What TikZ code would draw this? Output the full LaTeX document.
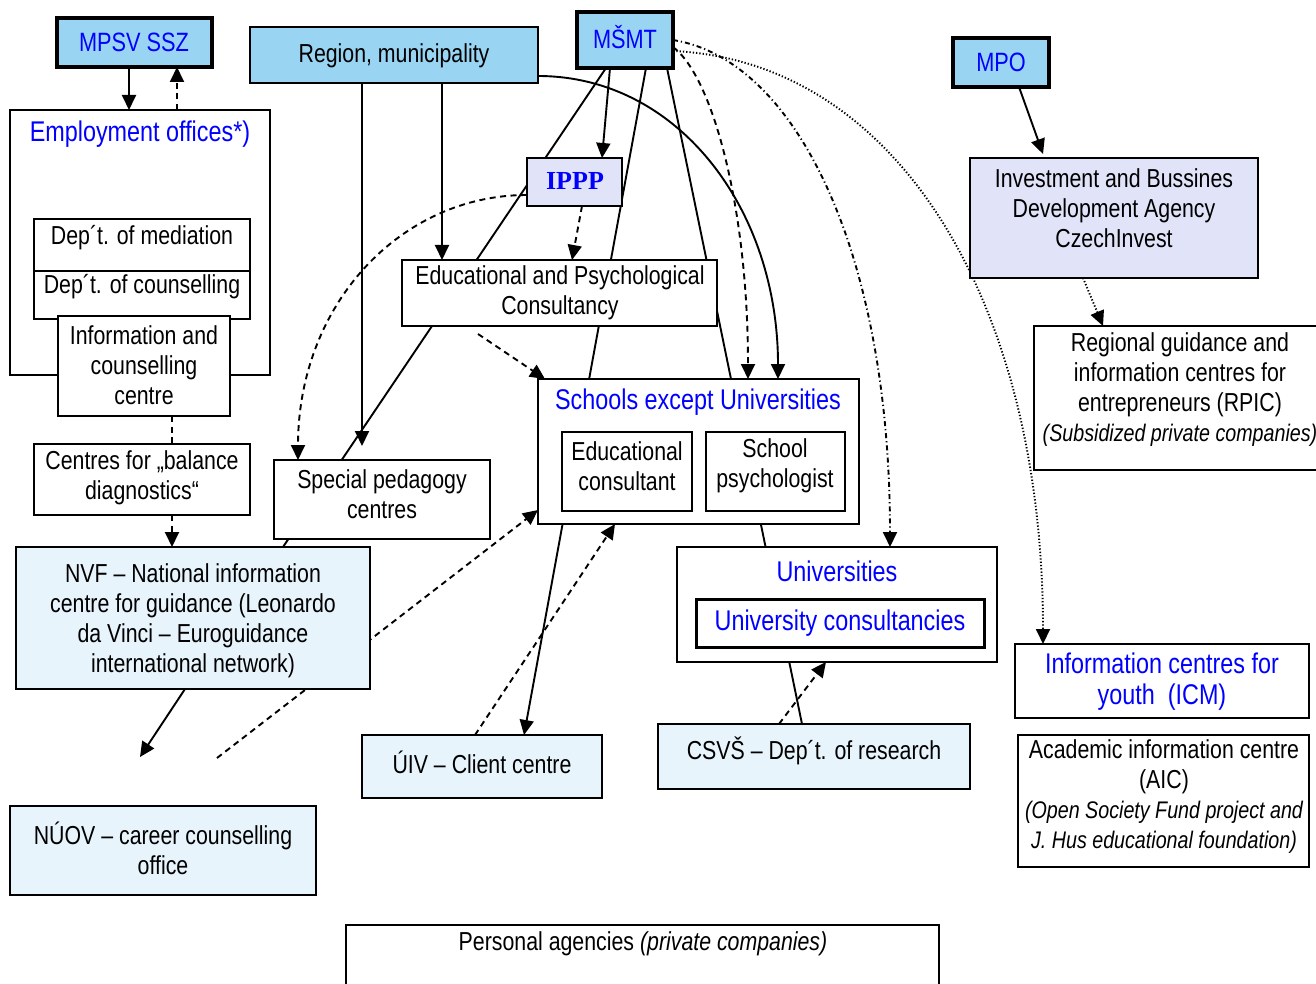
\documentclass[tikz,border=0pt]{standalone}
\usepackage{fontspec}
\setmainfont{Liberation Sans}[FakeStretch=0.82]
\newfontfamily\ipppfont{Liberation Serif}
\usetikzlibrary{arrows.meta,calc}
\definecolor{skyb}{RGB}{153,213,242}
\definecolor{paleb}{RGB}{232,244,252}
\definecolor{lav}{RGB}{225,228,248}
\definecolor{tblue}{RGB}{0,0,255}
\newcommand\myital{\fontsize{24}{28}\selectfont\itshape}
\pgfdeclarelayer{bgfill}
\pgfdeclarelayer{bg}
\pgfsetlayers{bgfill,bg,main}
\begin{document}
\begin{tikzpicture}[x=1pt,y=-1pt,
  box/.style={draw=black, line width=2pt, fill=white, inner sep=0pt, outer sep=0pt, anchor=north west},
  heavy/.style={box, line width=4.5pt},
  txt/.style={font=\fontsize{26}{30}\selectfont, align=center, inner sep=0pt},
  ttl/.style={font=\fontsize{28.5}{31}\selectfont, text=tblue, align=center, inner sep=0pt},
  con/.style={line width=1.9pt},
  arr/.style={-{Triangle[length=15pt,width=14pt]}},
  dsh/.style={dash pattern=on 6pt off 4.5pt},
  ddot/.style={dash pattern=on 5pt off 3pt on 1.2pt off 3pt},
  dotl/.style={dash pattern=on 1.3pt off 2pt},
]
\useasboundingbox (0,0) rectangle (1316,984);
\begin{pgfonlayer}{bgfill}
\fill[white] (0,0) rectangle (1316,984);
\end{pgfonlayer}

% boxes
\node[heavy, fill=skyb, minimum width=155pt, minimum height=49pt] (mpsv) at (57,18) {};
\node[box, fill=skyb, minimum width=288pt, minimum height=56pt] (region) at (250,27) {};
\node[heavy, fill=skyb, minimum width=96pt, minimum height=56pt] (msmt) at (577,12) {};
\node[heavy, fill=skyb, minimum width=96pt, minimum height=49pt] (mpo) at (953,38) {};
\node[box, minimum width=260pt, minimum height=265pt] (empl) at (10,110) {};
\node[box, minimum width=216pt, minimum height=52pt] (med) at (34,219) {};
\node[box, minimum width=216pt, minimum height=48pt] (cou) at (34,271) {};
\node[box, minimum width=172pt, minimum height=100pt] (icc) at (58,316) {};
\node[box, minimum width=216pt, minimum height=71pt] (bal) at (34,444) {};
\node[box, fill=lav, minimum width=95pt, minimum height=48pt] (ippp) at (527,158) {};
\node[box, minimum width=315pt, minimum height=66pt] (epc) at (402,260) {};
\node[box, minimum width=321pt, minimum height=145pt] (sch) at (538,379) {};
\node[box, minimum width=130pt, minimum height=79pt] (edc) at (562,432) {};
\node[box, minimum width=139pt, minimum height=79pt] (psy) at (706,432) {};
\node[box, minimum width=216pt, minimum height=79pt] (spc) at (274,460) {};
\node[box, fill=paleb, minimum width=354pt, minimum height=142pt] (nvf) at (16,547) {};
\node[box, fill=paleb, minimum width=306pt, minimum height=89pt] (nuov) at (10,806) {};
\node[box, fill=paleb, minimum width=240pt, minimum height=63pt] (uiv) at (362,735) {};
\node[box, fill=paleb, minimum width=312pt, minimum height=65pt] (csvs) at (658,724) {};
\node[box, minimum width=320pt, minimum height=115pt] (uni) at (677,547) {};
\node[box, line width=3pt, minimum width=288pt, minimum height=48pt] (ucons) at (696,599) {};
\node[box, fill=lav, minimum width=288pt, minimum height=120pt] (inv) at (970,158) {};
\node[box, minimum width=290pt, minimum height=144pt] (rpic) at (1034,326) {};
\node[box, minimum width=294pt, minimum height=74pt] (icm) at (1015,644) {};
\node[box, minimum width=291pt, minimum height=132pt] (aic) at (1018,735) {};
\node[box, minimum width=593pt, minimum height=70pt] (pers) at (346,925) {};

% texts
\node[ttl, font=\fontsize{26.5}{30}\selectfont] (t-mpsv) at (134,42) {MPSV SSZ};
\node[txt] (t-region) at (394,56) {Region, municipality};
\node[ttl, font=\fontsize{26.5}{30}\selectfont] (t-msmt) at (625,37) {MŠMT};
\node[ttl, font=\fontsize{26.5}{30}\selectfont] (t-mpo) at (1001,62) {MPO};
\node[ttl] (t-empl) at (140,134) {Employment offices*)};
\node[txt] (t-med) at (142,238) {Dep´t. of mediation};
\node[txt] (t-cou) at (142,287) {Dep´t. of counselling};
\node[txt] (t-icc) at (144,365) {Information and\\counselling\\centre};
\node[txt] (t-bal) at (142,478) {Centres for „balance\\diagnostics“};
\node[ttl, font=\ipppfont\bfseries\fontsize{26}{30}\selectfont] (t-ippp) at (575,181) {IPPP};
\node[txt] (t-epc) at (560,293) {Educational and Psychological\\Consultancy};
\node[ttl] (t-sch) at (698,402) {Schools except Universities};
\node[txt] (t-edc) at (627,466) {Educational\\consultant};
\node[txt] (t-psy) at (775,466) {School\\psychologist};
\node[txt] (t-spc) at (382,494) {Special pedagogy\\centres};
\node[txt] (t-nvf) at (193,621) {NVF – National information\\centre for guidance (Leonardo\\da Vinci – Euroguidance\\international network)};
\node[txt] (t-nuov) at (163,848) {NÚOV – career counselling\\office};
\node[txt] (t-uiv) at (482,762) {ÚIV – Client centre};
\node[txt] (t-csvs) at (814,751) {CSVŠ – Dep´t. of research};
\node[ttl] (t-uni) at (837,571) {Universities};
\node[ttl] (t-ucons) at (840,623) {University consultancies};
\node[txt] (t-inv) at (1114,208) {Investment and Bussines\\Development Agency\\CzechInvest};
\node[txt] (t-rpic) at (1180,390) {Regional guidance and\\information centres for\\entrepreneurs (RPIC)\\{\myital (Subsidized private companies)}};
\node[ttl] (t-icm) at (1162,682) {Information centres for\\youth~~(ICM)};
\node[txt] (t-aic) at (1164,797) {Academic information centre\\(AIC)\\{\myital (Open Society Fund project and}\\{\myital J. Hus educational foundation)}};
\node[txt] (t-pers) at (643,944) {Personal agencies {\itshape (private companies)}};

\coordinate (nvfend) at (217,758);
\coordinate (nvfout) at (140,757);

\begin{pgfonlayer}{bg}
\draw[con,arr] ($(mpsv.south west)+(72,0)$) -- ($(empl.north west)+(119,0)$);
\draw[con,arr,dsh] ($(empl.north west)+(167,0)$) -- ($(mpsv.south west)+(120,0)$);
\draw[con,arr] ($(region.south west)+(192,0)$) -- ($(epc.north west)+(40,0)$);
\draw[con,arr,shorten >=14pt] ($(region.south west)+(112,0)$) -- ($(spc.north west)+(88,0)$);
\draw[con,arr] ($(region.south east)+(0,-7)$) .. controls +(140,0) and +(0,-170) .. ($(sch.north west)+(240,0)$);
\draw[con] ($(msmt.south west)+(29,0)$) -- ($(nvf.north west)+(267,0)$);
\draw[con,arr] ($(msmt.south west)+(33,0)$) -- ($(ippp.north west)+(75,0)$);
\draw[con,arr] ($(msmt.south west)+(69,0)$) -- ($(uiv.north west)+(162,0)$);
\draw[con] ($(msmt.south west)+(90,0)$) -- ($(csvs.north west)+(144,0)$);
\draw[con,arr,dsh] ($(msmt.north east)+(0,35)$) .. controls +(40,30) and +(0,-170) .. ($(sch.north west)+(210,0)$);
\draw[con,arr,ddot] ($(msmt.north east)+(0,28)$) .. controls +(125,20) and +(0,-290) .. ($(uni.north west)+(213,0)$);
\draw[con,arr,dotl] ($(msmt.north east)+(0,39)$) .. controls +(225,10) and +(0,-340) .. ($(icm.north west)+(28,0)$);
\draw[con,arr,dsh] ($(ippp.south west)+(55,0)$) -- ($(epc.north west)+(170,0)$);
\draw[con,arr,dsh] ($(ippp.south west)+(0,-11)$) .. controls +(-127,0) and +(0,-155) .. ($(spc.north west)+(24,0)$);
\draw[con,arr,dsh] ($(epc.south west)+(76,8)$) -- ($(sch.north west)+(7,0)$);
\draw[con,arr,dsh] (nvfend) -- ($(sch.south west)+(0,-14)$);
\draw[con,arr] ($(nvf.south west)+(169,0)$) -- (nvfout);
\draw[con,arr,dsh] ($(uiv.north west)+(113,0)$) -- ($(sch.south west)+(77,0)$);
\draw[con,dsh] ($(icc.south west)+(114,0)$) -- ($(bal.north west)+(138,0)$);
\draw[con,arr,dsh] ($(bal.south west)+(138,0)$) -- ($(nvf.north west)+(156,0)$);
\draw[con,arr,dsh] ($(csvs.north west)+(121,0)$) -- ($(uni.south west)+(149,0)$);
\draw[con,arr] ($(mpo.south west)+(66,0)$) -- ($(inv.north west)+(73,-4)$);
\draw[con,arr,dotl] ($(inv.south west)+(113,0)$) -- ($(rpic.north west)+(69,0)$);
\end{pgfonlayer}
\end{tikzpicture}
\end{document}
